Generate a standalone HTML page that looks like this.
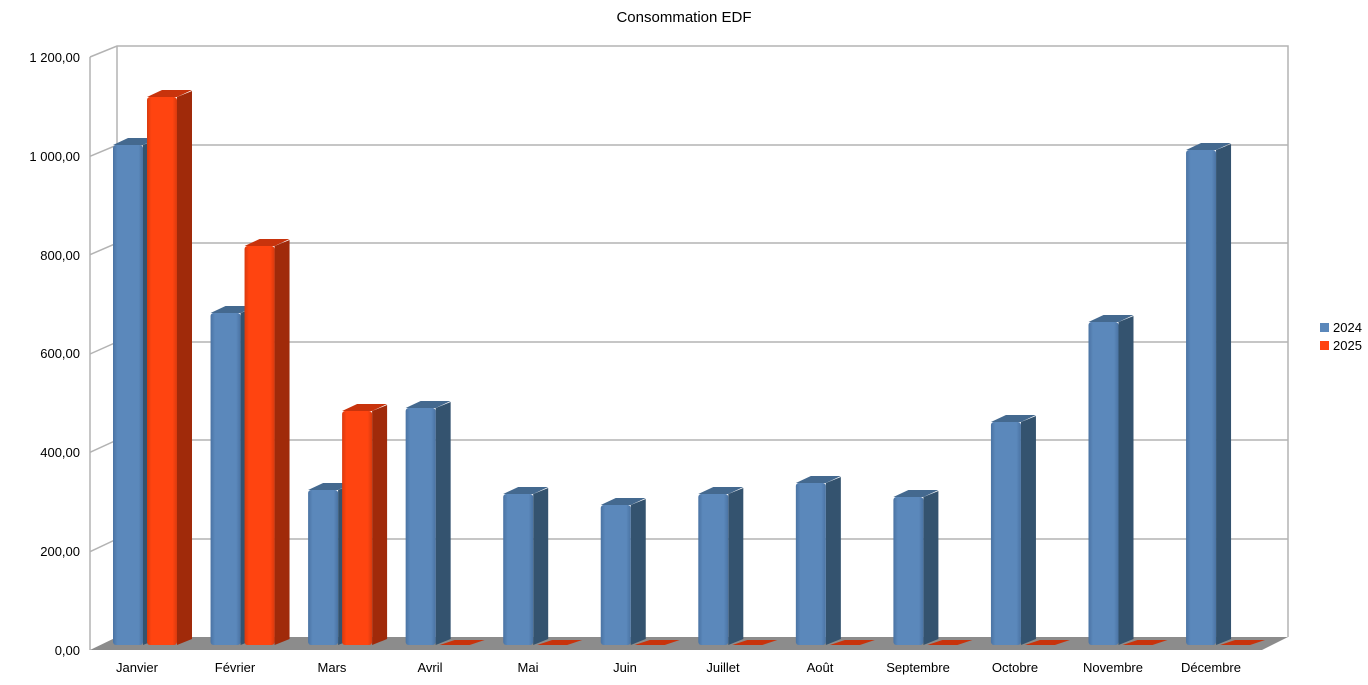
<!DOCTYPE html>
<html><head><meta charset="utf-8"><style>
body{margin:0;background:#fff;}
svg{display:block;font-family:"Liberation Sans",sans-serif;}
</style></head><body>
<svg id="s" width="1368" height="685" viewBox="0 0 1368 685">
<defs>
<linearGradient id="bf" x1="0" x2="1" y1="0" y2="0"><stop offset="0" stop-color="#4a73a3"/><stop offset="0.15" stop-color="#5b88bb"/><stop offset="0.85" stop-color="#5b88bb"/><stop offset="1" stop-color="#4a73a3"/></linearGradient>
<linearGradient id="rf" x1="0" x2="1" y1="0" y2="0"><stop offset="0" stop-color="#d93a0e"/><stop offset="0.15" stop-color="#ff4410"/><stop offset="0.85" stop-color="#ff4410"/><stop offset="1" stop-color="#d93a0e"/></linearGradient>
</defs>
<text x="684" y="22" font-size="15" text-anchor="middle">Consommation EDF</text>
<g stroke="#b3b3b3" stroke-width="1.5" fill="none" id="grid">
<polyline points="90,57 117,46 1288,46 1288,637"/>
<line x1="117" y1="46" x2="117" y2="637"/>
<line x1="90" y1="57" x2="90" y2="650"/>
</g>
<polygon points="90,650 117,637 1288,637 1262,650" fill="#8c8c8c"/>
<g font-size="13" text-anchor="end">
<text x="80" y="655">0,00</text>
<text x="80" y="556">200,00</text>
<text x="80" y="457">400,00</text>
<text x="80" y="358">600,00</text>
<text x="80" y="260">800,00</text>
<text x="80" y="161">1 000,00</text>
<text x="80" y="62">1 200,00</text>
</g>
<g font-size="13" text-anchor="middle">
<text x="137" y="672">Janvier</text>
<text x="235" y="672">Février</text>
<text x="332" y="672">Mars</text>
<text x="430" y="672">Avril</text>
<text x="528" y="672">Mai</text>
<text x="625" y="672">Juin</text>
<text x="723" y="672">Juillet</text>
<text x="820" y="672">Août</text>
<text x="918" y="672">Septembre</text>
<text x="1015" y="672">Octobre</text>
<text x="1113" y="672">Novembre</text>
<text x="1211" y="672">Décembre</text>
</g>
<rect x="1320" y="323" width="9" height="9" fill="#5b88bb"/>
<rect x="1320" y="341" width="9" height="9" fill="#ff4410"/>
<text x="1333" y="332" font-size="13">2024</text>
<text x="1333" y="350" font-size="13">2025</text>
<g id="bars"></g>
</svg>
<script>
var g=document.getElementById('grid');
[145,243,342,440,539].forEach(function(y){
 var fy=650+(y-637)*593/591;
 g.innerHTML+='<polyline points="90,'+fy.toFixed(1)+' 117,'+y+' 1288,'+y+'"/>';
});
var blue=[145,313,490,408,494,505,494,483,497,422,322,150];
var red=[97,246,411];
var b=document.getElementById('bars'),h='';
function bar(x,top,front,side,cap){
 var bot=645;
 h+='<polygon points="'+(x+30)+','+bot+' '+(x+45)+','+(bot-6)+' '+(x+45)+','+(top-6)+' '+(x+30)+','+top+'" fill="'+side+'"/>';
 h+='<polygon points="'+x+','+top+' '+(x+15)+','+(top-7)+' '+(x+45)+','+(top-7)+' '+(x+30)+','+top+'" fill="'+cap+'"/>';
 h+='<rect x="'+x+'" y="'+top+'" width="30" height="'+(bot-top)+'" rx="3" fill="'+front+'"/>';
}
for(var i=0;i<12;i++){
 var x=113+i*97.55;
 bar(x,blue[i],'url(#bf)','#34536f','#44698f');
 if(i<3) bar(x+34,red[i],'url(#rf)','#a02a0a','#c8330c');
 else h+='<polygon points="'+(x+34)+',645 '+(x+49)+',640 '+(x+79)+',640 '+(x+64)+',645" fill="#c8330c"/>';
}
b.innerHTML=h;
</script>
</body></html>
